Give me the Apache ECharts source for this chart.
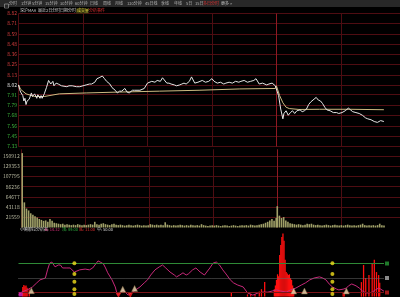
<!DOCTYPE html>
<html><head><meta charset="utf-8">
<script src="https://cdn.jsdelivr.net/npm/echarts@6/dist/echarts.min.js"></script>
<style>html,body{margin:0;padding:0;background:#000;}#c{width:400px;height:297px;}</style>
</head><body><div id="c"></div>
<script>
// ---- data ----
const priceTicks = [8.82,8.71,8.59,8.48,8.36,8.25,8.13,8.02,7.91,7.79,7.68,7.56,7.45,7.33];
const prevClose = 8.02;
const volumeTicks = [21559,43118,64677,86236,107795,129353,150912];
const indicatorLevels = [89,50,11];

const priceMinutes = [0,1,2,4,5,6,7,8,9,10,12,13,15,17,18,20,21,22,24,26,28,30,32,33,35,37,40,41,45,47,50,54,57,60,63,66,68,71,73,75,78,80,82,85,87,90,92,94,96,99,101,103,106,108,113,117,120,124,127,129,132,134,138,140,142,145,147,150,152,154,156,159,161,164,167,168,171,174,177,180,182,185,188,191,193,196,199,202,205,207,210,213,216,219,221,224,227,231,233,236,237,239,
  240,242,244,246,247,249,251,253,255,257,259,260,262,264,266,268,270,272,273,275,277,279,281,283,285,287,290,293,296,298,301,304,307,309,311,314,317,320,323,325,328,331,334,337,340];
const priceValues = [8.02,7.97,7.94,7.90,7.84,7.87,7.80,7.84,7.82,7.86,7.93,7.89,7.92,7.87,7.91,7.87,7.90,7.87,7.92,7.99,8.07,8.03,8.06,8.01,8.04,8.03,8.01,8.03,8.00,8.01,8.01,8.00,8.00,8.01,8.02,8.03,8.03,8.05,8.09,8.10,8.12,8.09,8.06,8.03,7.99,7.96,7.93,7.95,7.95,7.98,7.94,7.93,7.96,7.96,7.96,7.98,8.04,8.06,8.05,8.07,8.06,8.10,8.04,8.04,8.03,8.02,8.01,8.02,8.03,8.04,8.03,8.06,8.11,8.04,8.05,8.06,8.07,8.05,8.06,8.09,8.06,8.04,8.05,8.03,8.04,8.05,8.04,8.06,8.05,8.06,8.07,8.05,8.06,8.07,8.09,8.03,8.04,8.02,8.03,8.04,8.02,8.01,
  8.01,7.90,7.75,7.64,7.70,7.73,7.68,7.71,7.73,7.70,7.73,7.71,7.74,7.72,7.73,7.75,7.80,7.83,7.85,7.86,7.88,7.85,7.84,7.81,7.77,7.74,7.73,7.71,7.71,7.70,7.71,7.73,7.76,7.74,7.72,7.71,7.70,7.68,7.65,7.64,7.63,7.61,7.60,7.62,7.61];

const avgMinutes = [0,2,7,15,24,38,63,94,131,168,206,239,240,243,246,249,252,261,280,308,340];
const avgValues  = [8.02,7.97,7.92,7.89,7.89,7.92,7.93,7.94,7.95,7.96,7.975,7.98,8.01,7.90,7.82,7.77,7.755,7.745,7.747,7.747,7.742];

// volume, one value every 2 minutes (day 1 from minute 1, day 2 from minute 240)
const volDay1 = [157000,53000,40000,36000,30000,27000,24000,21000,18000,16000,
 14000,15000,12000,18000,14000,10000,9000,8000,7000,8000,
 6000,7000,6000,5000,6000,5000,7000,6000,5000,6000,
 5000,6000,7000,6000,12000,7000,6000,8000,9000,7000,
 6000,5000,7000,8000,6000,5000,6000,5000,4000,5000,
 6000,5000,4000,5000,6000,5000,4000,5000,4000,5000,
 7000,6000,5000,6000,5000,6000,5000,11000,6000,5000,
 4000,5000,4000,5000,6000,5000,4000,5000,4000,6000,
 5000,4000,5000,4000,7000,5000,4000,3000,4000,5000,
 4000,5000,4000,3000,4000,5000,4000,3000,4000,5000,
 4000,3000,4000,5000,4000,5000,4000,6000,5000,4000,
 5000,6000,7000,8000,10000,12000,15000,18000,14000,20000];
const volDay2 = [45000,25000,20000,22000,15000,12000,9000,8000,7000,6000,
 7000,6000,5000,6000,8000,7000,8000,6000,5000,6000,
 5000,4000,5000,6000,5000,4000,5000,6000,5000,4000,
 5000,4000,5000,6000,5000,4000,5000,4000,5000,6000,
 8000,5000,4000,5000,4000,5000,4000,5000,8000,5000,4000];

const indMinutes = [0,3,8,13,17,20,25,27,29,31,34,37,39,41,45,48,52,57,62,66,69,74,76,79,81,83,87,90,92,95,97,100,102,105,109,113,117,120,123,127,131,134,137,141,145,147,150,153,156,158,162,165,169,173,178,181,184,187,190,193,197,200,204,209,213,218,223,227,232,236,240,
  244,249,253,258,263,267,271,275,280,283,286,289,292,296,298,302,305,307,310,314,317,320,323,326,329,332,335,337,340];
const indValues = [5,12,18,26,37,45,50,72,90,93,80,85,85,77,77,77,66,72,74,72,77,96,93,88,77,64,45,26,4,10,18,10,4,10,18,26,37,45,58,72,80,85,77,66,58,53,58,64,58,61,72,77,66,58,77,90,93,85,72,61,45,37,31,26,10,4,10,12,12,15,18,
  15,12,18,23,31,37,45,50,53,50,45,34,26,20,18,20,23,29,34,29,23,15,10,10,12,18,23,20,14.32];

const redMinutes = [4,5,6,7,8,10,198,213,216,220,224,226,229,238,239,240,241,242,243,244,245,246,247,248,249,250,251,252,253,254,255,256,302,303,319,321,323,326,329,331,333,335,336];
const redValues  = [26,31,28,30,24,20,10,6,8,6,14,20,39,20,30,45,60,55,112,139,160,170,150,99,66,62,58,60,50,45,30,20,12,8,39,85,50,58,90,99,66,58,37];

const dotMinutes = [52,292];
const dotValues = [90,61,40,20,7];
const triMinutes = [12,97,108,256,266,305];
const triValues  = [16,20,22,15,15,15];
const downMinutes = [93,104];
const downValues = [3,3];
const pinkMinutes = [2];
const pinkValues = [6];

const toolbarItems = ['分时','1分钟','5分钟','15分钟','30分钟','60分钟','日线','周线','月线','120分钟','45日线','季线','年线','5日','15日'];
const headerItems = ['深沪MAA','最近2日分时','日期分时','成交量','分析事件'];
const indicatorName = '小腾那拉分析器';
const indicatorLegend = ['B: 14.32','顶: 89.00','底: 11.00','中: 50.00'];

// ---- layout (positions only) ----
const toolbarX = [9,21,32,45,60,75,90,103,115,127,145,161,174,186,195];
const headerX = [20,38,60,77,89];
const headerColors = ['#d0d0d0','#d0d0d0','#d0d0d0','#e0d040','#e03030'];
const legendX = [45,62,79,97];
const legendColors = ['#e0307e','#30b040','#e03030','#d8d8d8'];

// ---- build ----
const pair = (xs, ys) => xs.map((x, i) => [x, ys[i]]);
const volData = volDay1.map((v, i) => [1 + i * 2, v]).concat(volDay2.map((v, i) => [240 + i * 2, v]));
const dotData = [];
dotMinutes.forEach(m => dotValues.forEach(v => dotData.push([m, v])));

const gridRed = '#4e0d12';
const sepRed = '#8e1a22';
const vColors = [gridRed, gridRed, gridRed, gridRed, sepRed, gridRed, gridRed];
const font = '"Noto Sans CJK SC", "Noto Sans", sans-serif';
const f4 = '4px ' + font;

const chart = echarts.init(document.getElementById('c'), null, { renderer: 'canvas' });

const g = [
  { type: 'rect', left: 0, top: 0, shape: { width: 400, height: 7 }, style: { fill: '#282828' }, z: 10 },
  { type: 'rect', left: 2, top: 1.5, shape: { width: 4, height: 4 }, style: { fill: 'none', stroke: '#aaa', lineWidth: 0.6 }, z: 11 }
];
toolbarItems.forEach((t, i) => g.push({ type: 'text', left: toolbarX[i], top: 1.3, z: 11, style: { text: t, fill: '#b4b4b4', font: f4 } }));
g.push({ type: 'text', left: 203, top: 1.3, z: 11, style: { text: '多日分时', fill: '#e03030', font: f4 } });
g.push({ type: 'text', left: 221, top: 1.3, z: 11, style: { text: '更多 >', fill: '#c8c8c8', font: f4 } });
g.push({ type: 'rect', left: 76, top: 8.5, z: 10, shape: { width: 12, height: 5 }, style: { fill: '#34340e' } });
headerItems.forEach((t, i) => g.push({ type: 'text', left: headerX[i], top: 8.6, z: 11, style: { text: t, fill: headerColors[i], font: f4 } }));
g.push({ type: 'text', left: 20, top: 227.5, z: 11, style: { text: indicatorName, fill: '#d8d8d8', font: f4 } });
indicatorLegend.forEach((t, i) => g.push({ type: 'text', left: legendX[i], top: 227.5, z: 11, style: { text: t, fill: legendColors[i], font: f4 } }));

chart.setOption({
  backgroundColor: '#000',
  animation: false,
  grid: [
    { left: 18.5, top: 13.5, width: 381.5, height: 133 },
    { left: 18.5, top: 149.3, width: 381.5, height: 78.2 },
    { left: 18.5, top: 233.4, width: 365.5, height: 63.2 }
  ],
  xAxis: [0, 1, 2].map(gi => ({
    type: 'value', gridIndex: gi, min: 0, max: gi === 2 ? 340 : 355, interval: 60,
    axisLine: { show: false }, axisTick: { show: false }, axisLabel: { show: false },
    splitLine: { show: gi !== 2, lineStyle: { color: vColors, width: 1 } }
  })),
  yAxis: [
    {
      type: 'value', gridIndex: 0, min: 7.33, max: 8.82,
      axisLine: { show: false },
      axisTick: { show: false, customValues: priceTicks },
      axisLabel: {
        customValues: priceTicks, fontSize: 5, fontFamily: font, margin: 1.5,
        formatter: v => Number(v).toFixed(2),
        color: v => { const n = parseFloat(v); return Math.abs(n - prevClose) < 0.001 ? '#e0e0e0' : (n > prevClose ? '#d23c3c' : '#3cb43c'); }
      },
      splitLine: { show: true, lineStyle: { color: gridRed, width: 1 } }
    },
    {
      type: 'value', gridIndex: 1, min: 0, max: 165000,
      axisLine: { show: false },
      axisTick: { show: false, customValues: volumeTicks },
      axisLabel: { customValues: volumeTicks, fontSize: 5, fontFamily: font, margin: 1.5, color: '#b8b8a0', formatter: v => String(v) },
      splitLine: { show: true, lineStyle: { color: gridRed, width: 1 } }
    },
    {
      type: 'value', gridIndex: 2, min: 0, max: 170, position: 'right',
      axisLine: { show: false },
      axisTick: { show: false, customValues: indicatorLevels },
      axisLabel: {
        customValues: indicatorLevels, margin: 1, fontSize: 3,
        formatter: v => { const n = Number(v); return n === 89 ? '{g|  }' : (n === 50 ? '{w|  }' : '{r|  }'); },
        rich: {
          g: { backgroundColor: '#1f7a2a', width: 4, height: 4, fontSize: 3 },
          w: { backgroundColor: '#8a8a8a', width: 4, height: 4, fontSize: 3 },
          r: { backgroundColor: '#a01818', width: 4, height: 4, fontSize: 3 }
        }
      },
      splitLine: { show: false }
    }
  ],
  series: [
    { type: 'line', xAxisIndex: 0, yAxisIndex: 0, data: pair(priceMinutes, priceValues), symbol: 'none',
      lineStyle: { color: '#e6e6e6', width: 1 }, z: 5 },
    { type: 'line', xAxisIndex: 0, yAxisIndex: 0, data: pair(avgMinutes, avgValues), symbol: 'none',
      lineStyle: { color: '#cdbb82', width: 1 }, z: 4 },
    { type: 'bar', xAxisIndex: 1, yAxisIndex: 1, data: volData, barWidth: 1.6, barMinWidth: 1.6, clip: false, z: 5,
      itemStyle: { color: '#a0a068' } },
    { type: 'bar', xAxisIndex: 2, yAxisIndex: 2, data: pair(redMinutes, redValues), barWidth: 1.3,
      itemStyle: { color: '#ff1010' }, z: 3 },
    { type: 'line', xAxisIndex: 2, yAxisIndex: 2, data: pair(indMinutes, indValues), symbol: 'none',
      lineStyle: { color: '#c8287a', width: 1 }, z: 4,
      markLine: {
        silent: true, symbol: 'none', label: { show: false },
        data: [
          { yAxis: indicatorLevels[0], lineStyle: { color: '#2e8a36', width: 1, type: 'solid' } },
          { yAxis: indicatorLevels[1], lineStyle: { color: '#6a6a6a', width: 1, type: [1, 1] } },
          { yAxis: indicatorLevels[2], lineStyle: { color: '#7a1418', width: 1, type: 'solid' } }
        ]
      }
    },
    { type: 'scatter', xAxisIndex: 2, yAxisIndex: 2, data: dotData, symbol: 'circle', symbolSize: 4,
      itemStyle: { color: '#f2e01c' }, z: 6 },
    { type: 'scatter', xAxisIndex: 2, yAxisIndex: 2, data: pair(triMinutes, triValues), symbol: 'triangle', symbolSize: 6,
      itemStyle: { color: '#f0dcb4', borderColor: '#8a6a40', borderWidth: 0.5 }, z: 6 },
    { type: 'scatter', xAxisIndex: 2, yAxisIndex: 2, data: pair(downMinutes, downValues), symbol: 'triangle', symbolRotate: 180, symbolSize: 5,
      itemStyle: { color: '#ff2020' }, z: 6 },
    { type: 'scatter', xAxisIndex: 2, yAxisIndex: 2, data: pair(pinkMinutes, pinkValues), symbol: 'rect', symbolSize: 4,
      itemStyle: { color: '#e020c0' }, z: 6 }
  ],
  graphic: g
});
</script>
</body></html>
